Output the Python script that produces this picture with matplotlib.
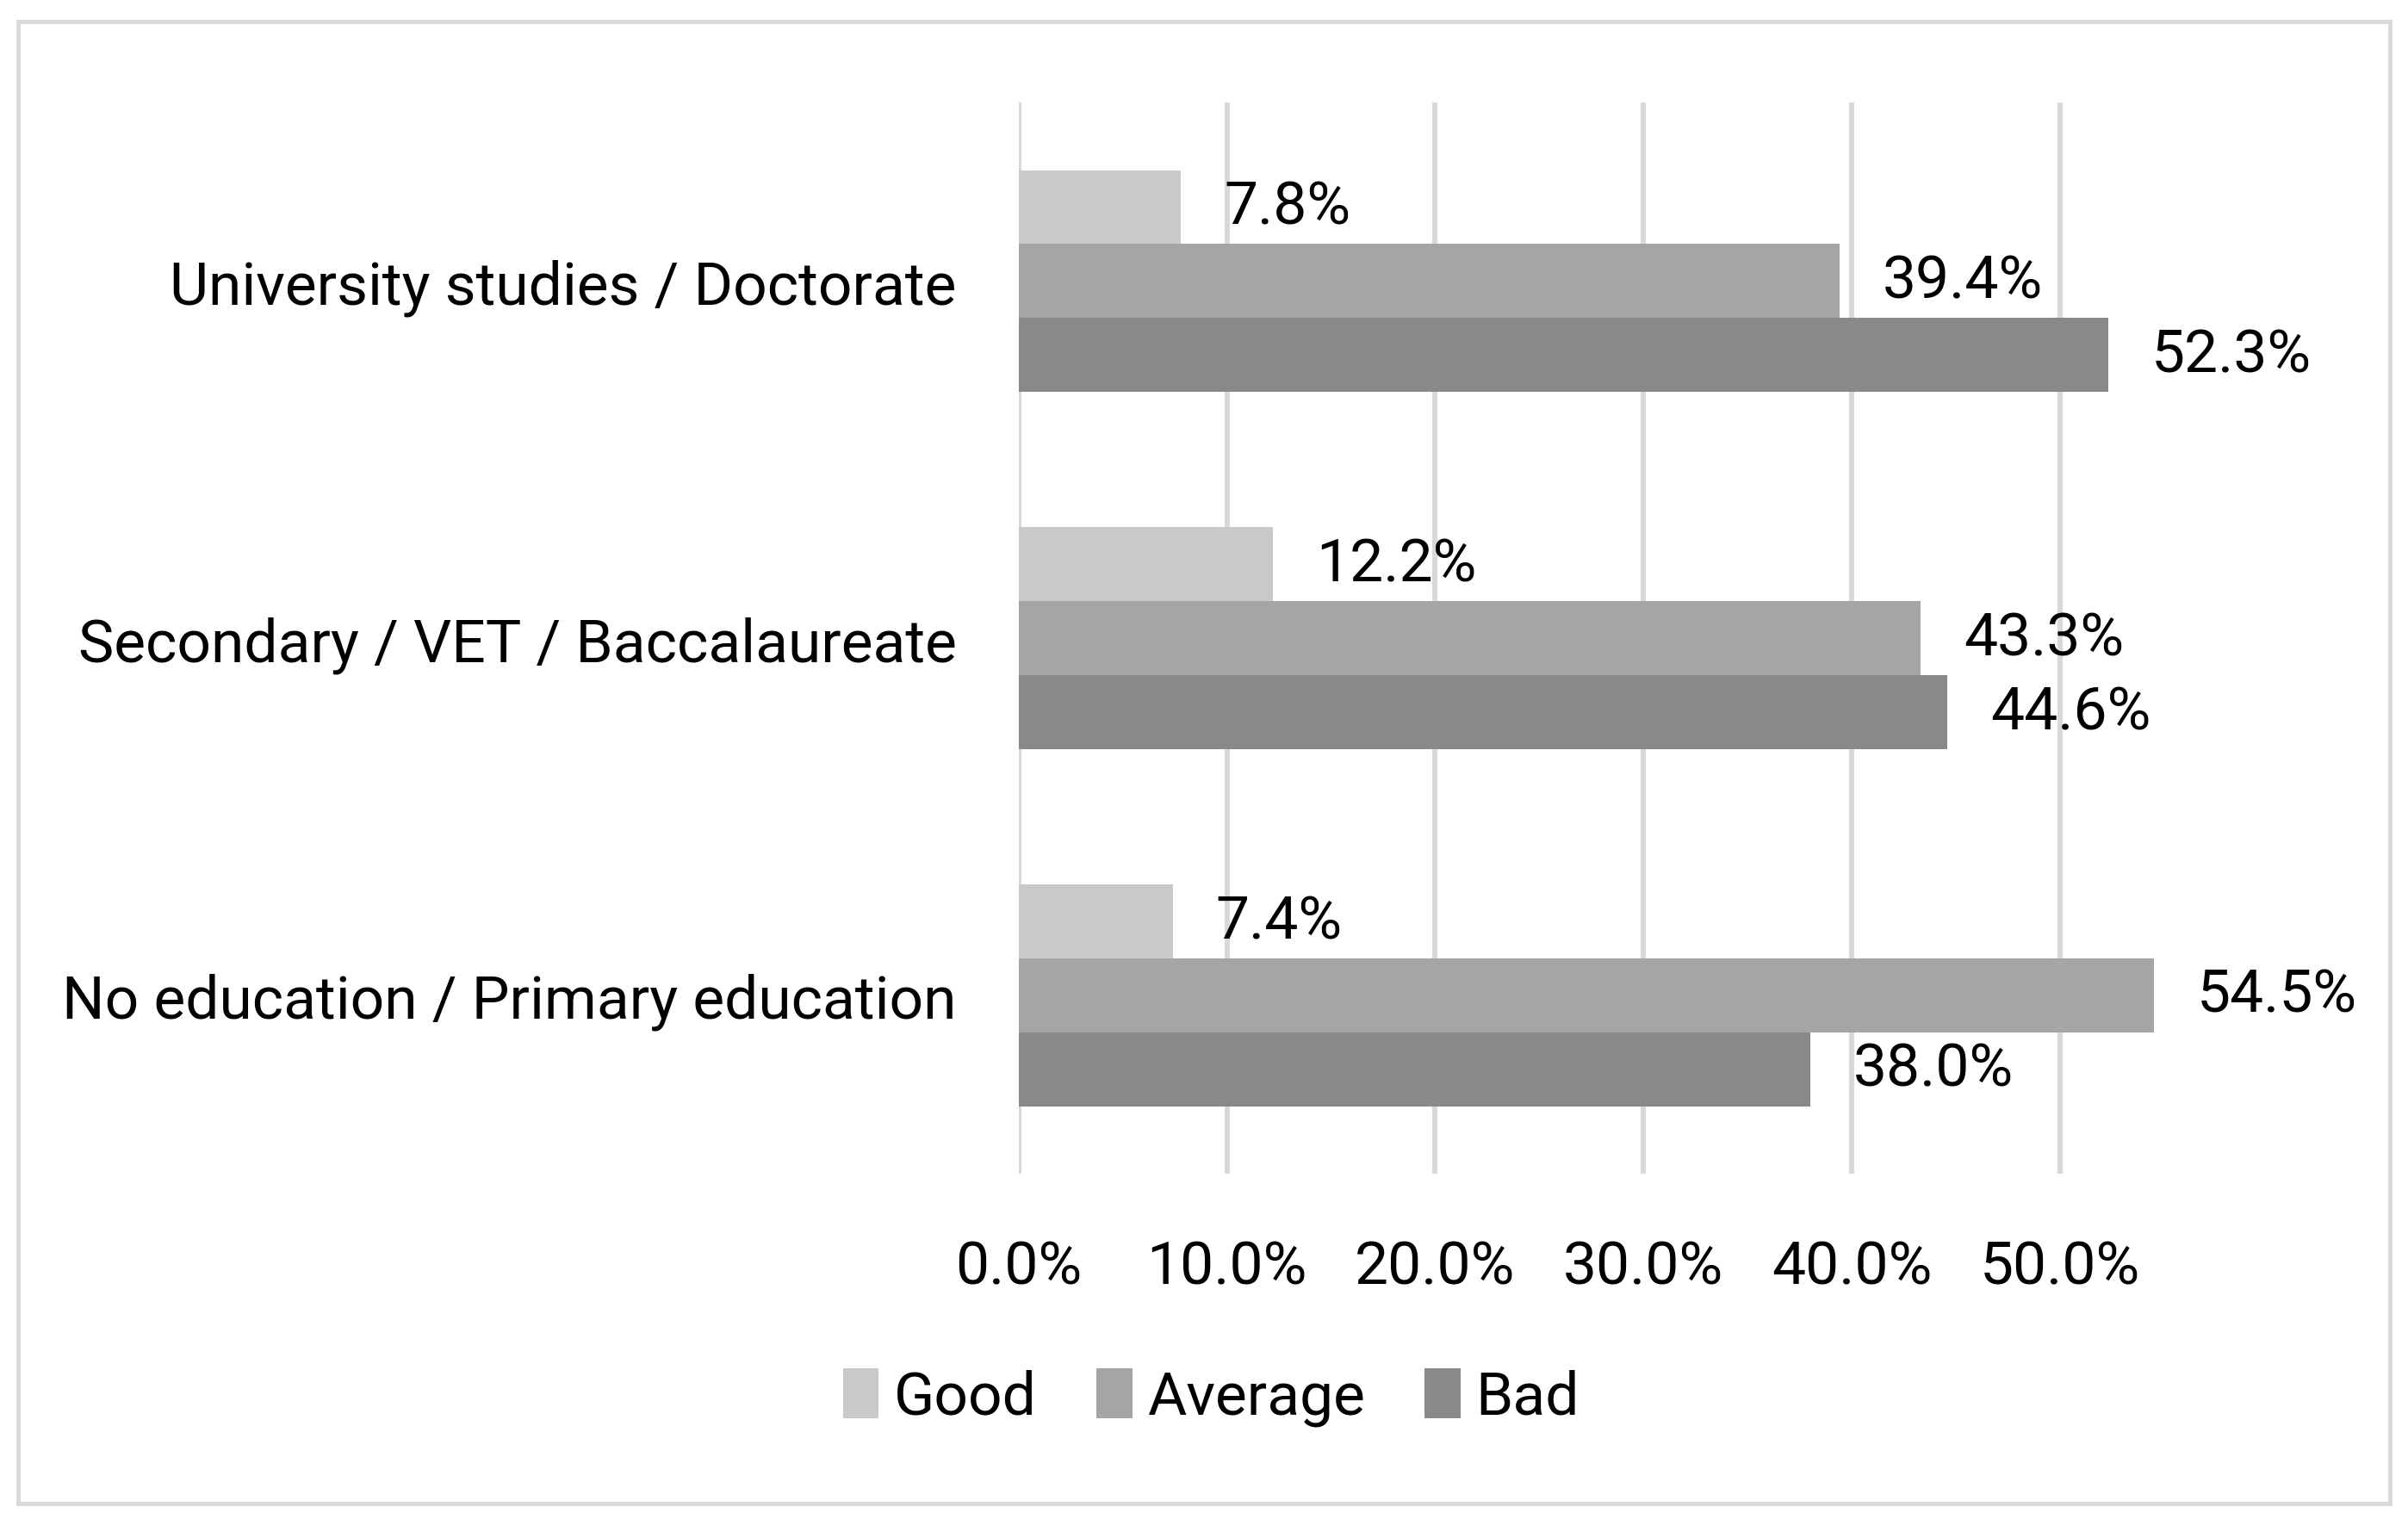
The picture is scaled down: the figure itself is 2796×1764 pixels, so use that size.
import numpy as np
import matplotlib.pyplot as plt
from matplotlib.patches import Rectangle
from matplotlib.ticker import PercentFormatter

plt.rcParams['font.family'] = ['Roboto', 'DejaVu Sans']

categories = ['University studies / Doctorate',
              'Secondary / VET / Baccalaureate',
              'No education / Primary education']
series = ['Good', 'Average', 'Bad']
good = [7.8, 12.2, 7.4]
average = [39.4, 43.3, 54.5]
bad = [52.3, 44.6, 38.0]
xticks = [0, 10, 20, 30, 40, 50]

colors = ['#c9c9c9', '#a5a5a5', '#898989']

fig = plt.figure(figsize=(13.98, 8.825), dpi=200)
fig.patches.append(Rectangle((0.0075, 0.01), 0.985, 0.975, transform=fig.transFigure,
                             fill=False, edgecolor='#d9d9d9', linewidth=1.8))

ax = fig.add_axes((0.423, 0.227, 0.519, 0.705))

y = np.arange(len(categories))
h = 0.207
for i, (name, vals) in enumerate(zip(series, [good, average, bad])):
    bars = ax.barh(y + (i - 1) * h, vals, height=h, color=colors[i], label=name, zorder=3)
    ax.bar_label(bars, labels=[f'{v:.1f}%' for v in vals], padding=18,
                 fontsize=25, color='black', clip_on=False)

ax.set_xlim(0, 60)
ax.set_ylim(-0.5, 2.5)
ax.invert_yaxis()
ax.set_yticks(y)
ax.set_yticklabels(categories, fontsize=25)
ax.set_xticks(xticks)
ax.xaxis.set_major_formatter(PercentFormatter(decimals=1))
ax.tick_params(axis='x', length=0, pad=27, labelsize=25)
ax.tick_params(axis='y', length=0, pad=26)
ax.grid(axis='x', color='#d9d9d9', linewidth=2.2, zorder=0)
ax.set_axisbelow(True)
for s in ax.spines.values():
    s.set_visible(False)

fig.legend(loc='center', bbox_to_anchor=(0.503, 0.08), ncol=3, frameon=False,
           fontsize=25, handlelength=0.6, handleheight=0.9, handletextpad=0.25,
           columnspacing=1.0)

fig.savefig('out.png', dpi=200)
